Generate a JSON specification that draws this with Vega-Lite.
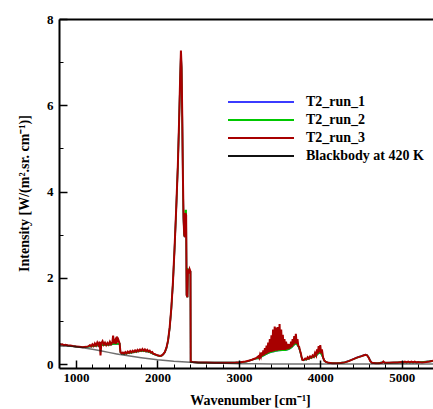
{
  "$schema": "https://vega.github.io/schema/vega-lite/v6.json",
  "width": 374,
  "height": 349,
  "autosize": "none",
  "padding": {"left": 59, "top": 19, "right": 0, "bottom": 41},
  "background": "white",
  "config": {"view": {"stroke": null}, "font": "Liberation Serif"},
  "datasets": {
    "r1": [
      {"x":800,"y":0.46},{"x":900,"y":0.43},{"x":1000,"y":0.405},{"x":1100,"y":0.39},{"x":1150,"y":0.405},{"x":1215,"y":0.415},{"x":1275,"y":0.435},{"x":1340,"y":0.445},{"x":1400,"y":0.445},{"x":1465,"y":0.47},{"x":1535,"y":0.47},{"x":1545,"y":0.275},{"x":1560,"y":0.245},{"x":1590,"y":0.235},{"x":1620,"y":0.245},{"x":1680,"y":0.265},{"x":1740,"y":0.285},{"x":1800,"y":0.305},{"x":1830,"y":0.305},{"x":1860,"y":0.295},{"x":1890,"y":0.285},{"x":1920,"y":0.265},{"x":1950,"y":0.235},{"x":1990,"y":0.205},{"x":2030,"y":0.185},{"x":2050,"y":0.195},{"x":2070,"y":0.225},{"x":2090,"y":0.275},{"x":2110,"y":0.37},{"x":2130,"y":0.54},{"x":2150,"y":0.84},{"x":2170,"y":1.28},{"x":2190,"y":1.88},{"x":2210,"y":2.68},{"x":2230,"y":3.58},{"x":2250,"y":4.58},{"x":2265,"y":5.58},{"x":2278,"y":6.55},{"x":2288,"y":7.2},{"x":2296,"y":6.85},{"x":2304,"y":5.75},{"x":2312,"y":4.35},{"x":2320,"y":3.35},{"x":2328,"y":2.98},{"x":2336,"y":2.95},{"x":2343,"y":3.45},{"x":2352,"y":3.45},{"x":2358,"y":1.6},{"x":2368,"y":1.55},{"x":2374,"y":2.2},{"x":2405,"y":2.15},{"x":2408,"y":0.05},{"x":2500,"y":0.035},{"x":3000,"y":0.035},{"x":3100,"y":0.06},{"x":3200,"y":0.125},{"x":3250,"y":0.135},{"x":3270,"y":0.165},{"x":3290,"y":0.185},{"x":3310,"y":0.205},{"x":3330,"y":0.225},{"x":3350,"y":0.245},{"x":3370,"y":0.265},{"x":3390,"y":0.275},{"x":3410,"y":0.285},{"x":3430,"y":0.295},{"x":3450,"y":0.305},{"x":3490,"y":0.315},{"x":3530,"y":0.325},{"x":3570,"y":0.325},{"x":3590,"y":0.335},{"x":3610,"y":0.345},{"x":3630,"y":0.365},{"x":3650,"y":0.395},{"x":3670,"y":0.435},{"x":3690,"y":0.475},{"x":3710,"y":0.465},{"x":3730,"y":0.415},{"x":3750,"y":0.315},{"x":3770,"y":0.165},{"x":3780,"y":0.1},{"x":3800,"y":0.095},{"x":3830,"y":0.105},{"x":3860,"y":0.125},{"x":3890,"y":0.145},{"x":3920,"y":0.165},{"x":3950,"y":0.195},{"x":3970,"y":0.235},{"x":3990,"y":0.265},{"x":4010,"y":0.245},{"x":4035,"y":0.15},{"x":4050,"y":0.08},{"x":4070,"y":0.05},{"x":4100,"y":0.03},{"x":4200,"y":0.02},{"x":4300,"y":0.045},{"x":4350,"y":0.075},{"x":4400,"y":0.115},{"x":4450,"y":0.155},{"x":4500,"y":0.185},{"x":4530,"y":0.205},{"x":4555,"y":0.222},{"x":4575,"y":0.21},{"x":4595,"y":0.155},{"x":4615,"y":0.075},{"x":4635,"y":0.03},{"x":4700,"y":0.02},{"x":4775,"y":0.05},{"x":4800,"y":0.03},{"x":5000,"y":0.04},{"x":5200,"y":0.04},{"x":5385,"y":0.07}
    ],
    "r2": [
      {"x":800,"y":0.46},{"x":900,"y":0.43},{"x":1000,"y":0.405},{"x":1100,"y":0.39},{"x":1150,"y":0.405},{"x":1215,"y":0.415},{"x":1275,"y":0.435},{"x":1340,"y":0.445},{"x":1400,"y":0.445},{"x":1465,"y":0.47},{"x":1535,"y":0.47},{"x":1545,"y":0.275},{"x":1560,"y":0.245},{"x":1590,"y":0.235},{"x":1620,"y":0.245},{"x":1680,"y":0.265},{"x":1740,"y":0.285},{"x":1800,"y":0.305},{"x":1830,"y":0.305},{"x":1860,"y":0.295},{"x":1890,"y":0.285},{"x":1920,"y":0.265},{"x":1950,"y":0.235},{"x":1990,"y":0.205},{"x":2030,"y":0.185},{"x":2050,"y":0.195},{"x":2070,"y":0.225},{"x":2090,"y":0.275},{"x":2110,"y":0.37},{"x":2130,"y":0.54},{"x":2150,"y":0.84},{"x":2170,"y":1.28},{"x":2190,"y":1.88},{"x":2210,"y":2.68},{"x":2230,"y":3.58},{"x":2250,"y":4.58},{"x":2265,"y":5.58},{"x":2278,"y":6.55},{"x":2288,"y":7.2},{"x":2296,"y":6.85},{"x":2304,"y":5.75},{"x":2312,"y":4.35},{"x":2320,"y":3.35},{"x":2328,"y":2.98},{"x":2336,"y":2.95},{"x":2343,"y":3.56},{"x":2352,"y":3.56},{"x":2358,"y":1.6},{"x":2368,"y":1.55},{"x":2374,"y":2.2},{"x":2405,"y":2.15},{"x":2408,"y":0.05},{"x":2500,"y":0.035},{"x":3000,"y":0.035},{"x":3100,"y":0.06},{"x":3200,"y":0.125},{"x":3250,"y":0.135},{"x":3270,"y":0.165},{"x":3290,"y":0.185},{"x":3310,"y":0.205},{"x":3330,"y":0.225},{"x":3350,"y":0.245},{"x":3370,"y":0.265},{"x":3390,"y":0.275},{"x":3410,"y":0.285},{"x":3430,"y":0.295},{"x":3450,"y":0.305},{"x":3490,"y":0.315},{"x":3530,"y":0.325},{"x":3570,"y":0.325},{"x":3590,"y":0.335},{"x":3610,"y":0.345},{"x":3630,"y":0.365},{"x":3650,"y":0.395},{"x":3670,"y":0.435},{"x":3690,"y":0.475},{"x":3710,"y":0.465},{"x":3730,"y":0.415},{"x":3750,"y":0.315},{"x":3770,"y":0.165},{"x":3780,"y":0.1},{"x":3800,"y":0.095},{"x":3830,"y":0.105},{"x":3860,"y":0.125},{"x":3890,"y":0.145},{"x":3920,"y":0.165},{"x":3950,"y":0.195},{"x":3970,"y":0.235},{"x":3990,"y":0.265},{"x":4010,"y":0.245},{"x":4035,"y":0.15},{"x":4050,"y":0.08},{"x":4070,"y":0.05},{"x":4100,"y":0.03},{"x":4200,"y":0.02},{"x":4300,"y":0.04},{"x":4350,"y":0.07},{"x":4400,"y":0.11},{"x":4450,"y":0.15},{"x":4500,"y":0.18},{"x":4530,"y":0.2},{"x":4555,"y":0.215},{"x":4575,"y":0.205},{"x":4595,"y":0.15},{"x":4615,"y":0.07},{"x":4635,"y":0.03},{"x":4700,"y":0.02},{"x":4775,"y":0.05},{"x":4800,"y":0.03},{"x":5000,"y":0.04},{"x":5200,"y":0.04},{"x":5385,"y":0.07}
    ],
    "r3": [
      {"x":800,"y":0.47},{"x":815,"y":0.45},{"x":830,"y":0.46},{"x":850,"y":0.44},{"x":870,"y":0.45},{"x":900,"y":0.43},{"x":930,"y":0.43},{"x":960,"y":0.42},{"x":1000,"y":0.41},{"x":1040,"y":0.4},{"x":1080,"y":0.39},{"x":1120,"y":0.4},{"x":1150,"y":0.41},{"x":1170,"y":0.44},{"x":1185,"y":0.41},{"x":1200,"y":0.46},{"x":1215,"y":0.42},{"x":1230,"y":0.48},{"x":1245,"y":0.43},{"x":1260,"y":0.5},{"x":1275,"y":0.44},{"x":1290,"y":0.52},{"x":1300,"y":0.2},{"x":1310,"y":0.48},{"x":1325,"y":0.53},{"x":1340,"y":0.45},{"x":1355,"y":0.5},{"x":1370,"y":0.44},{"x":1385,"y":0.49},{"x":1400,"y":0.45},{"x":1415,"y":0.52},{"x":1430,"y":0.46},{"x":1445,"y":0.5},{"x":1455,"y":0.66},{"x":1465,"y":0.48},{"x":1480,"y":0.55},{"x":1490,"y":0.47},{"x":1500,"y":0.64},{"x":1510,"y":0.5},{"x":1520,"y":0.56},{"x":1535,"y":0.48},{"x":1545,"y":0.28},{"x":1560,"y":0.25},{"x":1575,"y":0.27},{"x":1590,"y":0.24},{"x":1605,"y":0.28},{"x":1620,"y":0.25},{"x":1635,"y":0.29},{"x":1650,"y":0.26},{"x":1665,"y":0.3},{"x":1680,"y":0.27},{"x":1695,"y":0.31},{"x":1710,"y":0.28},{"x":1725,"y":0.32},{"x":1740,"y":0.29},{"x":1755,"y":0.33},{"x":1770,"y":0.3},{"x":1785,"y":0.34},{"x":1800,"y":0.31},{"x":1815,"y":0.35},{"x":1830,"y":0.31},{"x":1845,"y":0.34},{"x":1860,"y":0.3},{"x":1875,"y":0.33},{"x":1890,"y":0.29},{"x":1905,"y":0.31},{"x":1920,"y":0.27},{"x":1935,"y":0.28},{"x":1950,"y":0.24},{"x":1970,"y":0.23},{"x":1990,"y":0.21},{"x":2010,"y":0.2},{"x":2030,"y":0.19},{"x":2050,"y":0.2},{"x":2070,"y":0.23},{"x":2090,"y":0.28},{"x":2110,"y":0.38},{"x":2130,"y":0.55},{"x":2150,"y":0.85},{"x":2170,"y":1.3},{"x":2190,"y":1.9},{"x":2210,"y":2.7},{"x":2230,"y":3.6},{"x":2250,"y":4.6},{"x":2265,"y":5.6},{"x":2278,"y":6.6},{"x":2288,"y":7.27},{"x":2296,"y":6.9},{"x":2304,"y":5.8},{"x":2312,"y":4.4},{"x":2320,"y":3.4},{"x":2328,"y":3.0},{"x":2336,"y":2.95},{"x":2343,"y":3.5},{"x":2352,"y":3.45},{"x":2358,"y":1.6},{"x":2368,"y":1.55},{"x":2374,"y":2.2},{"x":2385,"y":2.1},{"x":2395,"y":2.2},{"x":2405,"y":2.15},{"x":2408,"y":0.06},{"x":2430,"y":0.05},{"x":2500,"y":0.04},{"x":2600,"y":0.035},{"x":2700,"y":0.03},{"x":2800,"y":0.03},{"x":2900,"y":0.03},{"x":2960,"y":0.035},{"x":3000,"y":0.04},{"x":3040,"y":0.05},{"x":3080,"y":0.06},{"x":3120,"y":0.08},{"x":3160,"y":0.1},{"x":3200,"y":0.13},{"x":3220,"y":0.15},{"x":3240,"y":0.18},{"x":3250,"y":0.14},{"x":3260,"y":0.22},{"x":3270,"y":0.17},{"x":3280,"y":0.27},{"x":3290,"y":0.19},{"x":3300,"y":0.32},{"x":3310,"y":0.21},{"x":3320,"y":0.37},{"x":3330,"y":0.23},{"x":3340,"y":0.43},{"x":3350,"y":0.25},{"x":3360,"y":0.5},{"x":3370,"y":0.27},{"x":3380,"y":0.58},{"x":3390,"y":0.28},{"x":3400,"y":0.67},{"x":3410,"y":0.29},{"x":3420,"y":0.8},{"x":3430,"y":0.3},{"x":3440,"y":0.87},{"x":3450,"y":0.31},{"x":3460,"y":0.85},{"x":3470,"y":0.31},{"x":3480,"y":0.86},{"x":3490,"y":0.32},{"x":3500,"y":0.93},{"x":3510,"y":0.32},{"x":3520,"y":0.8},{"x":3530,"y":0.33},{"x":3540,"y":0.68},{"x":3550,"y":0.33},{"x":3560,"y":0.58},{"x":3570,"y":0.33},{"x":3580,"y":0.52},{"x":3590,"y":0.34},{"x":3600,"y":0.47},{"x":3610,"y":0.35},{"x":3620,"y":0.46},{"x":3630,"y":0.37},{"x":3640,"y":0.52},{"x":3650,"y":0.4},{"x":3660,"y":0.58},{"x":3670,"y":0.44},{"x":3680,"y":0.65},{"x":3690,"y":0.48},{"x":3700,"y":0.7},{"x":3710,"y":0.47},{"x":3720,"y":0.58},{"x":3730,"y":0.42},{"x":3740,"y":0.4},{"x":3750,"y":0.32},{"x":3760,"y":0.26},{"x":3770,"y":0.17},{"x":3780,"y":0.1},{"x":3790,"y":0.09},{"x":3800,"y":0.1},{"x":3815,"y":0.13},{"x":3830,"y":0.11},{"x":3845,"y":0.16},{"x":3860,"y":0.13},{"x":3875,"y":0.18},{"x":3890,"y":0.15},{"x":3905,"y":0.2},{"x":3920,"y":0.17},{"x":3935,"y":0.26},{"x":3950,"y":0.2},{"x":3960,"y":0.34},{"x":3970,"y":0.24},{"x":3980,"y":0.42},{"x":3990,"y":0.27},{"x":4000,"y":0.44},{"x":4010,"y":0.25},{"x":4020,"y":0.34},{"x":4035,"y":0.15},{"x":4050,"y":0.08},{"x":4070,"y":0.05},{"x":4100,"y":0.03},{"x":4150,"y":0.02},{"x":4200,"y":0.02},{"x":4250,"y":0.025},{"x":4300,"y":0.04},{"x":4350,"y":0.07},{"x":4400,"y":0.11},{"x":4450,"y":0.15},{"x":4500,"y":0.18},{"x":4530,"y":0.2},{"x":4555,"y":0.215},{"x":4575,"y":0.205},{"x":4595,"y":0.15},{"x":4615,"y":0.07},{"x":4635,"y":0.03},{"x":4680,"y":0.02},{"x":4720,"y":0.02},{"x":4760,"y":0.03},{"x":4775,"y":0.06},{"x":4790,"y":0.03},{"x":4850,"y":0.03},{"x":4900,"y":0.035},{"x":4950,"y":0.04},{"x":5000,"y":0.05},{"x":5020,"y":0.04},{"x":5040,"y":0.06},{"x":5060,"y":0.04},{"x":5080,"y":0.06},{"x":5100,"y":0.04},{"x":5120,"y":0.06},{"x":5140,"y":0.04},{"x":5160,"y":0.06},{"x":5180,"y":0.04},{"x":5200,"y":0.05},{"x":5250,"y":0.04},{"x":5300,"y":0.05},{"x":5340,"y":0.06},{"x":5385,"y":0.08}
    ],
    "bb": [
      {"x":800,"y":0.421},{"x":900,"y":0.417},{"x":1000,"y":0.4},{"x":1100,"y":0.375},{"x":1200,"y":0.343},{"x":1300,"y":0.308},{"x":1400,"y":0.272},{"x":1500,"y":0.237},{"x":1600,"y":0.204},{"x":1700,"y":0.174},{"x":1800,"y":0.146},{"x":1900,"y":0.122},{"x":2000,"y":0.101},{"x":2200,"y":0.068},{"x":2400,"y":0.044},{"x":2600,"y":0.028},{"x":2800,"y":0.018},{"x":3000,"y":0.011},{"x":3200,"y":0.007},{"x":3400,"y":0.004},{"x":3600,"y":0.0025},{"x":4000,"y":0.001},{"x":4500,"y":0.0003},{"x":5385,"y":0}
    ]
  },
  "layer": [
    {
      "data": {"name": "r1"},
      "mark": {"type": "line", "strokeWidth": 1.6, "clip": true},
      "encoding": {
        "color": {
          "datum": "T2_run_1", "type": "nominal",
          "scale": {"domain": ["T2_run_1", "T2_run_2", "T2_run_3", "Blackbody at 420 K"], "range": ["#3b3bff", "#00c800", "#a80000", "#111111"]},
          "legend": {"title": null, "orient": "none", "legendX": 168, "legendY": 74, "symbolType": "stroke", "symbolSize": 4356, "symbolStrokeWidth": 2, "labelFont": "Liberation Serif", "labelFontWeight": "bold", "labelFontSize": 14, "labelColor": "black", "labelOffset": 11, "clipHeight": 18, "rowPadding": 0, "padding": 0, "labelLimit": 300, "symbolOpacity": 1}
        },
        "x": {"field": "x", "type": "quantitative", "scale": {"domain": [790, 5385], "nice": false, "zero": false},
          "axis": {"orient": "bottom", "values": [1000, 2000, 3000, 4000, 5000], "format": "d", "tickSize": -8, "tickWidth": 1.5, "tickColor": "black", "domainColor": "black", "domainWidth": 2, "labelFont": "Liberation Serif", "labelFontSize": 13, "labelFontWeight": "bold", "labelColor": "black", "labelPadding": 11, "labelFlush": false, "grid": false, "zindex": 1, "title": "Wavenumber [cm⁻¹]", "titleFont": "Liberation Serif", "titleFontSize": 14, "titleFontWeight": "bold", "titleColor": "black", "titleX": 191, "titleY": 32, "titleBaseline": "middle", "titleAlign": "center"}},
        "y": {"field": "y", "type": "quantitative", "scale": {"domain": [-0.09, 8], "nice": false, "zero": false},
          "axis": {"orient": "left", "values": [0, 2, 4, 6, 8], "format": "d", "tickSize": -8, "tickWidth": 1.5, "tickColor": "black", "domainColor": "black", "domainWidth": 2, "labelFont": "Liberation Serif", "labelFontSize": 13, "labelFontWeight": "bold", "labelColor": "black", "labelPadding": 14, "labelFlush": false, "grid": false, "zindex": 1, "title": "Intensity [W/(m².sr. cm⁻¹)]", "titleFont": "Liberation Serif", "titleFontSize": 14, "titleFontWeight": "bold", "titleColor": "black", "titleX": -35, "titleY": 174, "titleAngle": -90, "titleBaseline": "middle", "titleAlign": "center"}}
      }
    },
    {
      "data": {"name": "r2"},
      "mark": {"type": "line", "strokeWidth": 1.6, "clip": true},
      "encoding": {
        "color": {"datum": "T2_run_2", "type": "nominal"},
        "x": {"field": "x", "type": "quantitative",
          "axis": {"orient": "bottom", "values": [1200, 1400, 1600, 1800, 2200, 2400, 2600, 2800, 3200, 3400, 3600, 3800, 4200, 4400, 4600, 4800, 5200], "tickSize": -4, "tickWidth": 1, "tickColor": "black", "domain": false, "labels": false, "grid": false, "title": null, "zindex": 1}},
        "y": {"field": "y", "type": "quantitative",
          "axis": {"orient": "left", "values": [1, 3, 5, 7], "tickSize": -4, "tickWidth": 1, "tickColor": "black", "domain": false, "labels": false, "grid": false, "title": null, "zindex": 1}}
      }
    },
    {
      "data": {"name": "r3"},
      "mark": {"type": "line", "strokeWidth": 2, "clip": true},
      "encoding": {
        "color": {"datum": "T2_run_3", "type": "nominal"},
        "x": {"field": "x", "type": "quantitative",
          "axis": {"orient": "top", "domain": true, "domainColor": "black", "domainWidth": 2, "ticks": false, "labels": false, "grid": false, "title": null, "zindex": 1}},
        "y": {"field": "y", "type": "quantitative", "axis": null}
      }
    },
    {
      "data": {"name": "bb"},
      "mark": {"type": "line", "strokeWidth": 1.5, "clip": true, "strokeOpacity": 0.6},
      "encoding": {
        "color": {"datum": "Blackbody at 420 K", "type": "nominal"},
        "x": {"field": "x", "type": "quantitative", "axis": null},
        "y": {"field": "y", "type": "quantitative", "axis": null}
      }
    }
  ],
  "resolve": {"axis": {"x": "independent", "y": "independent"}}
}
